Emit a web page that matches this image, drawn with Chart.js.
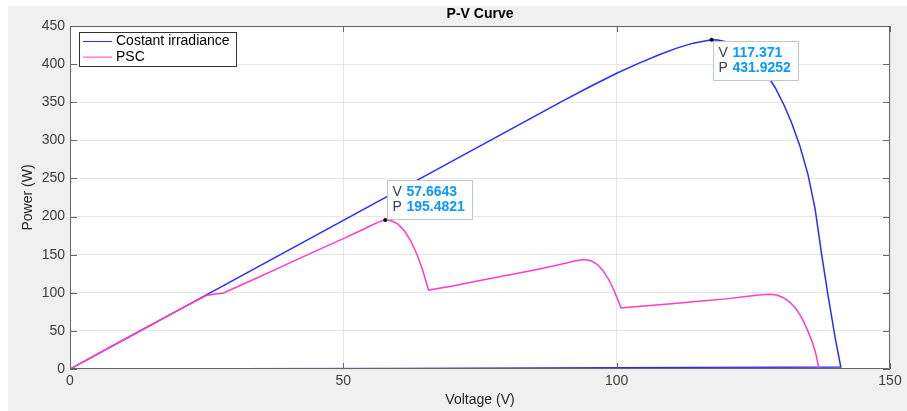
<!DOCTYPE html>
<html>
<head>
<meta charset="utf-8">
<title>P-V Curve</title>
<script src="https://cdn.jsdelivr.net/npm/chart.js@4.4.1/dist/chart.umd.min.js"></script>
<style>
  html, body { margin: 0; background: #fff; }
  #wrap { position: absolute; left: 8px; top: 6px; width: 899px; height: 405px; background: #f0f0f0; }
</style>
</head>
<body>
<div id="wrap"><canvas id="pvChart"></canvas></div>
<script>
// ----- P-V sweep data (forward sweep, then return along the axis) -----
const vUniform = [0, 10, 20, 30, 40, 50, 60, 70, 80, 90, 95, 100, 104, 108, 111, 114, 117.371,
  118.5, 120, 121.5, 123, 124.5, 126, 127.5, 129, 130.5, 132, 133.5, 135, 136.3, 137.5, 138.7, 140, 141,
  130, 100, 60, 30, 0];
const pUniform = [0, 39, 78, 117, 156, 195, 234, 273, 312, 351, 370, 388, 401, 413, 421, 427.5, 431.9252,
  431.5, 429.5, 425.5, 419, 411, 400, 386, 369, 348, 323, 293, 255, 210, 150, 95, 40, 2.5,
  2.2, 1.5, 0.6, 0.2, 0];

const vShaded = [0, 10, 20, 25, 26.5, 28, 30, 35, 40, 45, 50, 53, 55, 56.5, 57.6643,
  58.8, 60, 61.2, 62.4, 63.5, 64.5, 65.6,
  70, 75, 80, 85, 89, 91, 92.5, 94, 95.3, 96.5, 97.5, 98.5, 99.4, 100.2, 100.8,
  105, 110, 115, 120, 124, 126.5, 128, 129.3, 130.5, 131.7, 132.8, 133.8, 134.8, 135.7, 136.4, 137,
  100, 50, 0];
const pShaded = [0, 39, 78, 96.5, 98.5, 99.5, 106, 122, 138.5, 155, 171, 181, 188, 193, 195.4821,
  194.5, 190, 181, 167, 150, 130, 103.5,
  109, 116, 123, 130, 136, 139.5, 142, 143.5, 142, 137, 129, 118, 105, 91, 80,
  82.7, 85.6, 88.8, 92, 95.5, 97.3, 98, 97, 93.5, 87.5, 79, 68, 53, 37, 21, 1,
  0, 0, 0];

const seriesNames = ['Costant irradiance', 'PSC'];
const seriesColors = ['#2b2bff', '#ff3ec2'];

const xTicks = [0, 50, 100, 150];
const yTicks = [0, 50, 100, 150, 200, 250, 300, 350, 400, 450];

// data tips: dataset index + point index within it
const tipUniform = vUniform.indexOf(117.371);
const tipShaded = vShaded.indexOf(57.6643);

const FONT = "'Liberation Sans', Arial, Helvetica, sans-serif";
const AXIS_COLOR = '#666';

const toPoints = (vs, ps) => vs.map((v, i) => ({ x: v, y: ps[i] }));

// ----- plugins -----
const plotBackground = {
  id: 'plotBackground',
  beforeDraw(chart) {
    const { ctx, chartArea: a } = chart;
    ctx.save();
    ctx.fillStyle = '#fff';
    ctx.fillRect(a.left, a.top, a.width, a.height);
    ctx.restore();
  }
};

// box round the axes with inward tick marks on every side
const axesBox = {
  id: 'axesBox',
  afterDatasetsDraw(chart) {
    const { ctx, chartArea: a, scales: { x, y } } = chart;
    ctx.save();
    ctx.strokeStyle = AXIS_COLOR;
    ctx.lineWidth = 1;
    ctx.beginPath();
    ctx.rect(Math.round(a.left) + 0.5, Math.round(a.top) + 0.5,
      Math.round(a.width) - 1, Math.round(a.height) - 1);
    xTicks.forEach(v => {
      const px = Math.round(x.getPixelForValue(v)) + 0.5;
      ctx.moveTo(px, a.bottom); ctx.lineTo(px, a.bottom - 6);
      ctx.moveTo(px, a.top); ctx.lineTo(px, a.top + 6);
    });
    yTicks.forEach(v => {
      const py = Math.round(y.getPixelForValue(v)) + 0.5;
      ctx.moveTo(a.left, py); ctx.lineTo(a.left + 7, py);
      ctx.moveTo(a.right, py); ctx.lineTo(a.right - 7, py);
    });
    ctx.stroke();
    ctx.restore();
  }
};

const insetLegend = {
  id: 'insetLegend',
  afterDraw(chart) {
    const { ctx, chartArea: a } = chart;
    const left = Math.round(a.left) + 9, top = Math.round(a.top) + 6;
    const w = 157, h = 34;
    ctx.save();
    ctx.fillStyle = '#fff';
    ctx.fillRect(left, top, w, h);
    ctx.strokeStyle = '#333';
    ctx.lineWidth = 1;
    ctx.strokeRect(left + 0.5, top + 0.5, w, h);
    ctx.font = `14px ${FONT}`;
    ctx.textBaseline = 'middle';
    chart.data.datasets.forEach((ds, i) => {
      const cy = top + 9.5 + i * 15.6;
      ctx.strokeStyle = ds.borderColor;
      ctx.beginPath();
      ctx.moveTo(left + 4, cy); ctx.lineTo(left + 33, cy);
      ctx.stroke();
      ctx.fillStyle = '#000';
      ctx.fillText(ds.label, left + 37, cy);
    });
    ctx.restore();
  }
};

const dataTips = {
  id: 'dataTips',
  afterDraw(chart, args, opts) {
    const { ctx, scales: { x, y } } = chart;
    opts.tips.forEach(t => {
      const pt = chart.data.datasets[t.dataset].data[t.index];
      const px = x.getPixelForValue(pt.x), py = y.getPixelForValue(pt.y);
      const w = 85, h = 39;
      const bx = Math.round(px + 1.5);
      const by = Math.round(t.above ? py - 1 - h : py + 1);
      ctx.save();
      ctx.fillStyle = '#fcfdff';
      ctx.strokeStyle = '#c4c4c4';
      ctx.lineWidth = 1;
      ctx.fillRect(bx, by, w, h);
      ctx.strokeRect(bx + 0.5, by + 0.5, w, h);
      ctx.textBaseline = 'middle';
      [['V', pt.x], ['P', pt.y]].forEach(([name, val], r) => {
        const cy = by + 12 + r * 15.5;
        ctx.font = `14px ${FONT}`;
        ctx.fillStyle = '#404040';
        ctx.fillText(name, bx + 5.5, cy);
        ctx.font = `bold 14px ${FONT}`;
        ctx.fillStyle = '#0a98ff';
        ctx.fillText(String(val), bx + 19.5, cy);
      });
      ctx.fillStyle = '#000';
      ctx.beginPath();
      ctx.arc(px, py, 2, 0, Math.PI * 2);
      ctx.fill();
      ctx.restore();
    });
  }
};

// ----- chart -----
new Chart(document.getElementById('pvChart'), {
  type: 'line',
  data: {
    datasets: [
      { label: seriesNames[0], data: toPoints(vUniform, pUniform), borderColor: seriesColors[0], order: 1 },
      { label: seriesNames[1], data: toPoints(vShaded, pShaded), borderColor: seriesColors[1], order: 0 }
    ]
  },
  options: {
    responsive: true,
    maintainAspectRatio: false,
    animation: false,
    layout: { padding: { left: 0, right: 17, top: 0, bottom: 0 } },
    elements: {
      point: { radius: 0 },
      line: { borderWidth: 1.5, tension: 0, fill: false }
    },
    plugins: {
      legend: { display: false },
      tooltip: { enabled: false },
      title: {
        display: true,
        text: 'P-V Curve',
        fullSize: false,
        color: '#000',
        font: { family: FONT, size: 14, weight: 'bold' },
        padding: { top: 0, bottom: 3.2 }
      },
      dataTips: {
        tips: [
          { dataset: 0, index: tipUniform, above: false },
          { dataset: 1, index: tipShaded, above: true }
        ]
      }
    },
    scales: {
      x: {
        type: 'linear',
        min: xTicks[0],
        max: xTicks[xTicks.length - 1],
        ticks: { stepSize: 50, padding: 4, color: '#404040', font: { family: FONT, size: 14 } },
        grid: { color: '#e6e6e6', drawTicks: false },
        border: { display: false },
        title: {
          display: true, text: 'Voltage (V)', color: '#262626',
          font: { family: FONT, size: 14 }, padding: { top: 0, bottom: 2.6 }
        },
        afterFit(scale) { scale.height = 42; }
      },
      y: {
        type: 'linear',
        min: yTicks[0],
        max: yTicks[yTicks.length - 1],
        ticks: { stepSize: 50, padding: 5, color: '#404040', font: { family: FONT, size: 14 } },
        grid: { color: '#e6e6e6', drawTicks: false },
        border: { display: false },
        title: {
          display: true, text: 'Power (W)', color: '#262626',
          font: { family: FONT, size: 14 }, padding: { top: 11.6, bottom: 0 }
        },
        afterFit(scale) { scale.width = 62; }
      }
    }
  },
  plugins: [plotBackground, axesBox, insetLegend, dataTips]
});
</script>
</body>
</html>
